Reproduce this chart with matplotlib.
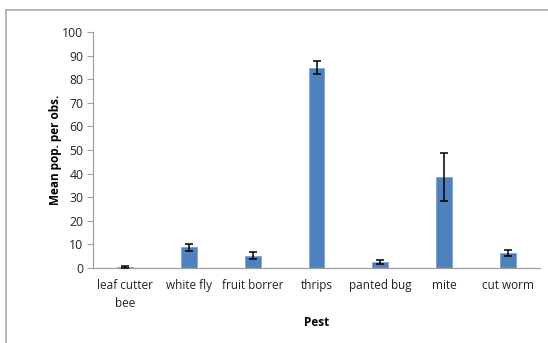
import matplotlib
matplotlib.use("Agg")
import matplotlib.pyplot as plt
from matplotlib.lines import Line2D

pests = ["leaf cutter\nbee", "white fly", "fruit borrer", "thrips",
         "panted bug", "mite", "cut worm"]
mean_pop = [0.4, 8.7, 5.2, 84.9, 2.7, 38.6, 6.3]
std_err = [0.3, 1.5, 1.5, 2.8, 0.8, 10.0, 1.2]
y_ticks = [0, 10, 20, 30, 40, 50, 60, 70, 80, 90, 100]

plt.rcParams["font.family"] = ["Open Sans", "DejaVu Sans"]

W, H = 548, 343
fig = plt.figure(figsize=(W / 100, H / 100), dpi=100)
ax = fig.add_axes([93 / W, 1 - 268 / H, 447 / W, 236 / H])

x = range(len(pests))
ax.bar(x, mean_pop, width=0.25, color="#4F81BD", edgecolor="#7FA3D0",
       linewidth=0.6, zorder=2)
ax.errorbar(x, mean_pop, yerr=std_err, fmt="none", ecolor="black",
            elinewidth=1.1, capsize=3, capthick=1.1, zorder=3)

ax.set_xlim(-0.5, len(pests) - 0.5)
ax.set_ylim(0, 100)
ax.set_yticks(y_ticks)
ax.set_xticks(list(x))
ax.set_xticklabels(pests, fontsize=8.5, color="#222222", linespacing=1.5)
ax.tick_params(axis="y", labelsize=8.8, colors="#222222", length=4,
               color="#A0A0A0", pad=3)
ax.tick_params(axis="x", length=0, pad=8)

for side in ("top", "right"):
    ax.spines[side].set_visible(False)
for side in ("left", "bottom"):
    ax.spines[side].set_color("#A0A0A0")
    ax.spines[side].set_linewidth(0.9)

ax.set_ylabel("Mean pop. per obs.", fontsize=8.5, fontweight="bold",
              labelpad=0)
ax.set_xlabel("Pest", fontsize=8.5, fontweight="bold", labelpad=4)

# chart area frame (left and top edges)
fig.add_artist(Line2D([5.5 / W, 5.5 / W], [0, 1 - 9.5 / H],
                      transform=fig.transFigure, color="#A8A8A8", lw=1.2))
fig.add_artist(Line2D([5.5 / W, 1], [1 - 9.5 / H, 1 - 9.5 / H],
                      transform=fig.transFigure, color="#A8A8A8", lw=1.2))

fig.savefig("out.png", dpi=100)
